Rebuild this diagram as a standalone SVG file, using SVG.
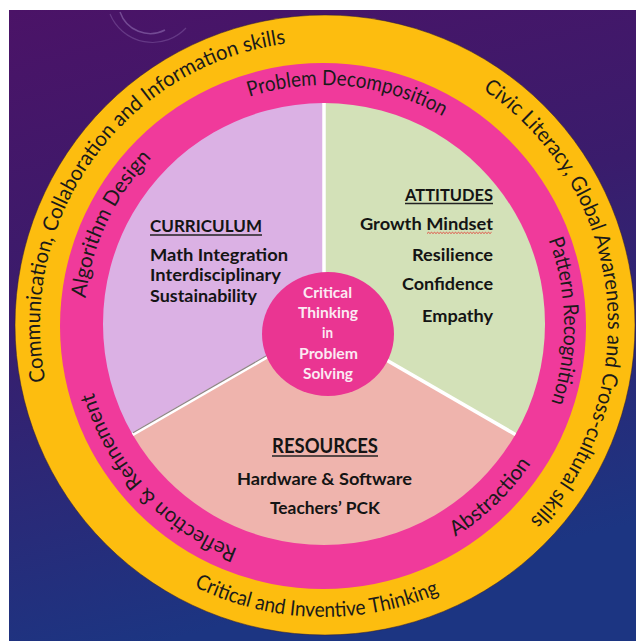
<svg xmlns="http://www.w3.org/2000/svg" width="636" height="641" viewBox="0 0 636 641">
<style>
.ring{font-family:Lato,"Liberation Sans",sans-serif;font-size:21px;fill:#1a1a1a}
.b{font-family:Lato,"Liberation Sans",sans-serif;font-weight:bold;fill:#141414}
.c{font-family:Lato,"Liberation Sans",sans-serif;font-weight:bold;fill:#fbeaf3;font-size:15.5px}
.ul{stroke:#222;stroke-width:1.4}
.div{stroke:#ffffff;stroke-width:3.5;stroke-linecap:butt}
</style>
<defs>
<linearGradient id="bg" x1="0" y1="0" x2="0.25" y2="1">
<stop offset="0" stop-color="#4b1367"/>
<stop offset="0.45" stop-color="#3a1c6c"/>
<stop offset="1" stop-color="#1c3582"/>
</linearGradient>
<path id="pA" d="M45.6,381.1 A284,284 0 0 1 314.1,41.2"/>
<path id="pB" d="M482.8,89.6 A284,284 0 0 1 510.3,539.3"/>
<path id="pC" d="M194.2,586.5 A292,292 0 0 0 461.1,582.8"/>
<path id="pD" d="M249.4,96.9 A240,240 0 0 1 461.7,128.4"/>
<path id="pE" d="M85.5,298.2 A240,240 0 0 1 169.7,141.1"/>
<path id="pF" d="M548.4,239.8 A240,240 0 0 1 541.5,426.4"/>
<path id="pG" d="M455.2,536.6 A249,249 0 0 0 543.9,441.9"/>
<path id="pH" d="M237.6,548.9 A240,240 0 0 1 87.6,366.7"/>
</defs>

<g id="background">
<rect x="0" y="0" width="636" height="641" fill="#ffffff"/>
<rect x="9" y="10" width="627" height="631" fill="url(#bg)"/>
<path d="M120,12 A32,32 0 0 0 165,30" fill="none" stroke="#a98bc9" stroke-opacity="0.45" stroke-width="1.5"/>
<path d="M110,14 A46,46 0 0 0 186,28" fill="none" stroke="#a98bc9" stroke-opacity="0.3" stroke-width="1.2"/>
</g>

<g id="ring-21st-century-skills">
<circle cx="325" cy="325" r="310" fill="#fdbd0f" stroke="#2b1a33" stroke-opacity="0.5" stroke-width="1"/>
<text class="ring"><textPath href="#pA" textLength="464" lengthAdjust="spacingAndGlyphs">Communication, Collaboration and Information skills</textPath></text>
<text class="ring"><textPath href="#pB" textLength="493" lengthAdjust="spacingAndGlyphs">Civic Literacy, Global Awareness and Cross-cultural skills</textPath></text>
<text class="ring"><textPath href="#pC" textLength="253" lengthAdjust="spacingAndGlyphs">Critical and Inventive Thinking</textPath></text>
</g>

<g id="ring-computational-thinking">
<circle cx="323" cy="326" r="263" fill="#f03a9b"/>
<text class="ring"><textPath href="#pD" textLength="200" lengthAdjust="spacingAndGlyphs">Problem Decomposition</textPath></text>
<text class="ring"><textPath href="#pE" textLength="158" lengthAdjust="spacingAndGlyphs">Algorithm Design</textPath></text>
<text class="ring"><textPath href="#pF" textLength="166" lengthAdjust="spacingAndGlyphs">Pattern Recognition</textPath></text>
<text class="ring"><textPath href="#pG" textLength="106" lengthAdjust="spacingAndGlyphs">Abstraction</textPath></text>
<text class="ring"><textPath href="#pH" textLength="220" lengthAdjust="spacingAndGlyphs">Reflection &amp; Refinement</textPath></text>
</g>

<g id="curriculum">
<path d="M324,324 L132.6,434.5 A221,221 0 0 1 324,103 Z" fill="#dbb1e4"/>
<text class="b" x="150" y="232" font-size="17.5" textLength="112" lengthAdjust="spacingAndGlyphs">CURRICULUM</text>
<line class="ul" x1="150" y1="235" x2="262" y2="235"/>
<text class="b" x="150" y="261" font-size="17.5" textLength="138" lengthAdjust="spacingAndGlyphs">Math Integration</text>
<text class="b" x="150" y="281" font-size="17.5" textLength="131" lengthAdjust="spacingAndGlyphs">Interdisciplinary</text>
<text class="b" x="150" y="302" font-size="17.5" textLength="107" lengthAdjust="spacingAndGlyphs">Sustainability</text>
</g>

<g id="attitudes">
<path d="M324,324 L324,103 A221,221 0 0 1 515.4,434.5 Z" fill="#d3e1b8"/>
<text class="b" x="405" y="200.5" font-size="17.5" textLength="88" lengthAdjust="spacingAndGlyphs">ATTITUDES</text>
<line class="ul" x1="405" y1="203.5" x2="493" y2="203.5"/>
<text class="b" x="360" y="230" font-size="17.5" textLength="133" lengthAdjust="spacingAndGlyphs">Growth Mindset</text>
<path d="M427,233.5 l1.5,-1.2 l1.5,1.2 l1.5,-1.2 l1.5,1.2 l1.5,-1.2 l1.5,1.2 l1.5,-1.2 l1.5,1.2 l1.5,-1.2 l1.5,1.2 l1.5,-1.2 l1.5,1.2 l1.5,-1.2 l1.5,1.2 l1.5,-1.2 l1.5,1.2 l1.5,-1.2 l1.5,1.2 l1.5,-1.2 l1.5,1.2 l1.5,-1.2 l1.5,1.2 l1.5,-1.2 l1.5,1.2 l1.5,-1.2 l1.5,1.2 l1.5,-1.2 l1.5,1.2 l1.5,-1.2 l1.5,1.2 l1.5,-1.2 l1.5,1.2 l1.5,-1.2 l1.5,1.2 l1.5,-1.2 l1.5,1.2 l1.5,-1.2 l1.5,1.2 l1.5,-1.2 l1.5,1.2 l1.5,-1.2 l1.5,1.2 l1.5,-1.2" fill="none" stroke="#e0403a" stroke-width="0.9"/>
<text class="b" x="412" y="261" font-size="17.5" textLength="81" lengthAdjust="spacingAndGlyphs">Resilience</text>
<text class="b" x="402" y="290" font-size="17.5" textLength="91" lengthAdjust="spacingAndGlyphs">Confidence</text>
<text class="b" x="422" y="322" font-size="17.5" textLength="71" lengthAdjust="spacingAndGlyphs">Empathy</text>
</g>

<g id="resources">
<path d="M324,324 L515.4,434.5 A221,221 0 0 1 132.6,434.5 Z" fill="#efb4ad"/>
<text class="b" x="272" y="453" font-size="20" textLength="106" lengthAdjust="spacingAndGlyphs">RESOURCES</text>
<line class="ul" x1="272" y1="456" x2="378" y2="456"/>
<text class="b" x="237" y="485" font-size="17.5" textLength="175" lengthAdjust="spacingAndGlyphs">Hardware &amp; Software</text>
<text class="b" x="270" y="514" font-size="17.5" textLength="110" lengthAdjust="spacingAndGlyphs">Teachers’ PCK</text>
</g>

<g id="connectors">
<line class="div" x1="324" y1="103" x2="324" y2="324"/>
<line class="div" x1="324" y1="324" x2="132.6" y2="434.5"/>
<line x1="324" y1="322.5" x2="133" y2="432.8" stroke="#8f8585" stroke-width="1.2"/>
<line class="div" x1="324" y1="324" x2="515.4" y2="434.5"/>
</g>

<g id="center">
<ellipse cx="328" cy="334" rx="66" ry="62" fill="#ea3592"/>
<text class="c" x="303" y="298" textLength="49" lengthAdjust="spacingAndGlyphs">Critical</text>
<text class="c" x="298" y="318" textLength="60" lengthAdjust="spacingAndGlyphs">Thinking</text>
<text class="c" x="322" y="338" textLength="11" lengthAdjust="spacingAndGlyphs">in</text>
<text class="c" x="299" y="359" textLength="59" lengthAdjust="spacingAndGlyphs">Problem</text>
<text class="c" x="303" y="379" textLength="50" lengthAdjust="spacingAndGlyphs">Solving</text>
</g>
</svg>
